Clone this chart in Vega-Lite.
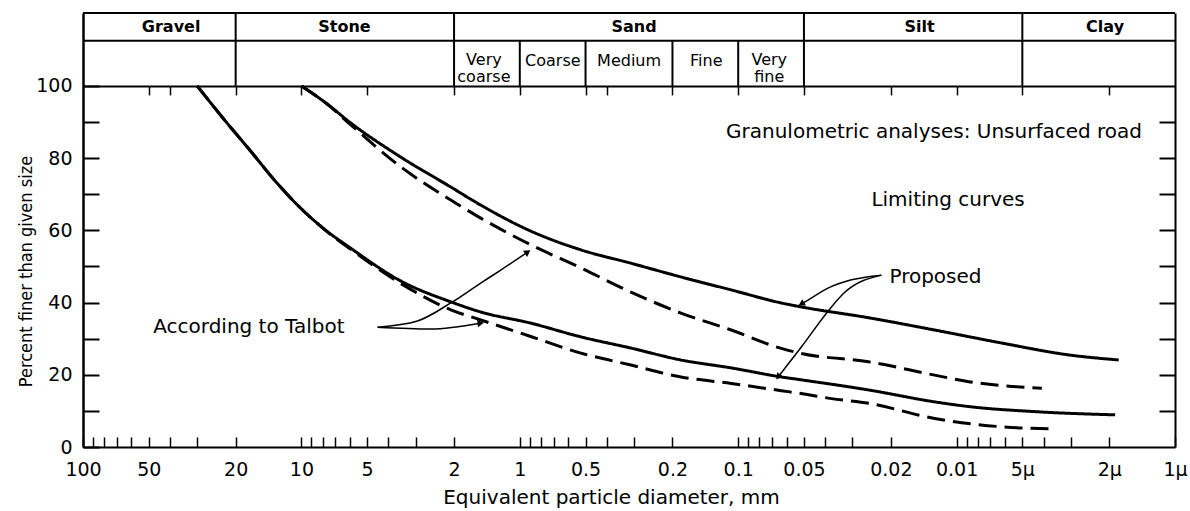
{
  "$schema": "https://vega.github.io/schema/vega-lite/v6.json",
  "width": 1092,
  "height": 434,
  "autosize": {"type": "none"},
  "padding": {"left": 83, "top": 13, "right": 15, "bottom": 64},
  "background": "white",
  "config": {
    "view": {"stroke": null},
    "font": "DejaVu Sans",
    "axis": {"labelFont": "DejaVu Sans", "titleFont": "DejaVu Sans", "labelColor": "black", "titleColor": "black", "domainColor": "black", "tickColor": "black", "grid": false}
  },
  "datasets": {
    "curves": [
      {"curve": "P_up", "kind": "Proposed", "i": 1, "d": 10, "p": 100},
      {"curve": "P_up", "kind": "Proposed", "i": 2, "d": 7.62, "p": 95},
      {"curve": "P_up", "kind": "Proposed", "i": 3, "d": 5.96, "p": 89.8},
      {"curve": "P_up", "kind": "Proposed", "i": 4, "d": 3.51, "p": 80.3},
      {"curve": "P_up", "kind": "Proposed", "i": 5, "d": 2.07, "p": 72.0},
      {"curve": "P_up", "kind": "Proposed", "i": 6, "d": 1.51, "p": 67.0},
      {"curve": "P_up", "kind": "Proposed", "i": 7, "d": 0.891, "p": 59.8},
      {"curve": "P_up", "kind": "Proposed", "i": 8, "d": 0.525, "p": 54.6},
      {"curve": "P_up", "kind": "Proposed", "i": 9, "d": 0.31, "p": 50.9},
      {"curve": "P_up", "kind": "Proposed", "i": 10, "d": 0.183, "p": 47.1},
      {"curve": "P_up", "kind": "Proposed", "i": 11, "d": 0.1076, "p": 43.5},
      {"curve": "P_up", "kind": "Proposed", "i": 12, "d": 0.0635, "p": 39.9},
      {"curve": "P_up", "kind": "Proposed", "i": 13, "d": 0.0514, "p": 38.8},
      {"curve": "P_up", "kind": "Proposed", "i": 14, "d": 0.0253, "p": 35.8},
      {"curve": "P_up", "kind": "Proposed", "i": 15, "d": 0.0126, "p": 32.4},
      {"curve": "P_up", "kind": "Proposed", "i": 16, "d": 0.00622, "p": 28.8},
      {"curve": "P_up", "kind": "Proposed", "i": 17, "d": 0.00306, "p": 25.5},
      {"curve": "P_up", "kind": "Proposed", "i": 18, "d": 0.00181, "p": 24.1},
      {"curve": "T_up", "kind": "Talbot", "i": 1, "d": 10, "p": 100},
      {"curve": "T_up", "kind": "Talbot", "i": 2, "d": 7.62, "p": 95},
      {"curve": "T_up", "kind": "Talbot", "i": 3, "d": 5.96, "p": 89.3},
      {"curve": "T_up", "kind": "Talbot", "i": 4, "d": 3.51, "p": 77.6},
      {"curve": "T_up", "kind": "Talbot", "i": 5, "d": 2.07, "p": 68.4},
      {"curve": "T_up", "kind": "Talbot", "i": 6, "d": 1.51, "p": 63.4},
      {"curve": "T_up", "kind": "Talbot", "i": 7, "d": 0.891, "p": 56.0},
      {"curve": "T_up", "kind": "Talbot", "i": 8, "d": 0.525, "p": 49.6},
      {"curve": "T_up", "kind": "Talbot", "i": 9, "d": 0.31, "p": 42.9},
      {"curve": "T_up", "kind": "Talbot", "i": 10, "d": 0.183, "p": 37.1},
      {"curve": "T_up", "kind": "Talbot", "i": 11, "d": 0.1076, "p": 32.4},
      {"curve": "T_up", "kind": "Talbot", "i": 12, "d": 0.0635, "p": 27.3},
      {"curve": "T_up", "kind": "Talbot", "i": 13, "d": 0.0514, "p": 25.9},
      {"curve": "T_up", "kind": "Talbot", "i": 14, "d": 0.0253, "p": 23.6},
      {"curve": "T_up", "kind": "Talbot", "i": 15, "d": 0.0126, "p": 19.9},
      {"curve": "T_up", "kind": "Talbot", "i": 16, "d": 0.0088, "p": 18.1},
      {"curve": "T_up", "kind": "Talbot", "i": 17, "d": 0.00407, "p": 16.3},
      {"curve": "P_low", "kind": "Proposed", "i": 1, "d": 30, "p": 100},
      {"curve": "P_low", "kind": "Proposed", "i": 2, "d": 22.3, "p": 90.3},
      {"curve": "P_low", "kind": "Proposed", "i": 3, "d": 17.1, "p": 82.0},
      {"curve": "P_low", "kind": "Proposed", "i": 4, "d": 13.2, "p": 73.7},
      {"curve": "P_low", "kind": "Proposed", "i": 5, "d": 10.1, "p": 66.2},
      {"curve": "P_low", "kind": "Proposed", "i": 6, "d": 7.76, "p": 60.1},
      {"curve": "P_low", "kind": "Proposed", "i": 7, "d": 5.96, "p": 55.1},
      {"curve": "P_low", "kind": "Proposed", "i": 8, "d": 3.51, "p": 46.0},
      {"curve": "P_low", "kind": "Proposed", "i": 9, "d": 2.07, "p": 40.2},
      {"curve": "P_low", "kind": "Proposed", "i": 10, "d": 1.51, "p": 37.4},
      {"curve": "P_low", "kind": "Proposed", "i": 11, "d": 0.891, "p": 34.3},
      {"curve": "P_low", "kind": "Proposed", "i": 12, "d": 0.525, "p": 30.5},
      {"curve": "P_low", "kind": "Proposed", "i": 13, "d": 0.31, "p": 27.4},
      {"curve": "P_low", "kind": "Proposed", "i": 14, "d": 0.183, "p": 24.1},
      {"curve": "P_low", "kind": "Proposed", "i": 15, "d": 0.1076, "p": 21.9},
      {"curve": "P_low", "kind": "Proposed", "i": 16, "d": 0.0635, "p": 19.4},
      {"curve": "P_low", "kind": "Proposed", "i": 17, "d": 0.0514, "p": 18.6},
      {"curve": "P_low", "kind": "Proposed", "i": 18, "d": 0.0253, "p": 15.8},
      {"curve": "P_low", "kind": "Proposed", "i": 19, "d": 0.0126, "p": 12.5},
      {"curve": "P_low", "kind": "Proposed", "i": 20, "d": 0.0088, "p": 11.2},
      {"curve": "P_low", "kind": "Proposed", "i": 21, "d": 0.00439, "p": 9.8},
      {"curve": "P_low", "kind": "Proposed", "i": 22, "d": 0.00188, "p": 8.9},
      {"curve": "T_low", "kind": "Talbot", "i": 1, "d": 30, "p": 100},
      {"curve": "T_low", "kind": "Talbot", "i": 2, "d": 22.3, "p": 90.3},
      {"curve": "T_low", "kind": "Talbot", "i": 3, "d": 17.1, "p": 82.0},
      {"curve": "T_low", "kind": "Talbot", "i": 4, "d": 13.2, "p": 73.7},
      {"curve": "T_low", "kind": "Talbot", "i": 5, "d": 10.1, "p": 66.2},
      {"curve": "T_low", "kind": "Talbot", "i": 6, "d": 7.76, "p": 60.0},
      {"curve": "T_low", "kind": "Talbot", "i": 7, "d": 5.96, "p": 54.8},
      {"curve": "T_low", "kind": "Talbot", "i": 8, "d": 3.51, "p": 45.3},
      {"curve": "T_low", "kind": "Talbot", "i": 9, "d": 2.07, "p": 38.0},
      {"curve": "T_low", "kind": "Talbot", "i": 10, "d": 1.51, "p": 35.2},
      {"curve": "T_low", "kind": "Talbot", "i": 11, "d": 0.891, "p": 30.6},
      {"curve": "T_low", "kind": "Talbot", "i": 12, "d": 0.525, "p": 26.0},
      {"curve": "T_low", "kind": "Talbot", "i": 13, "d": 0.31, "p": 22.7},
      {"curve": "T_low", "kind": "Talbot", "i": 14, "d": 0.183, "p": 19.4},
      {"curve": "T_low", "kind": "Talbot", "i": 15, "d": 0.1076, "p": 17.6},
      {"curve": "T_low", "kind": "Talbot", "i": 16, "d": 0.0635, "p": 15.6},
      {"curve": "T_low", "kind": "Talbot", "i": 17, "d": 0.0514, "p": 14.8},
      {"curve": "T_low", "kind": "Talbot", "i": 18, "d": 0.0374, "p": 13.4},
      {"curve": "T_low", "kind": "Talbot", "i": 19, "d": 0.0253, "p": 12.1},
      {"curve": "T_low", "kind": "Talbot", "i": 20, "d": 0.0126, "p": 7.9},
      {"curve": "T_low", "kind": "Talbot", "i": 21, "d": 0.00622, "p": 5.6},
      {"curve": "T_low", "kind": "Talbot", "i": 22, "d": 0.00367, "p": 5.0}
    ],
    "arrows": [
      {"arrow": "pu", "i": 1, "d": 0.0221, "p": 47.6},
      {"arrow": "pu", "i": 2, "d": 0.0303, "p": 46.3},
      {"arrow": "pu", "i": 3, "d": 0.0388, "p": 44.0},
      {"arrow": "pu", "i": 4, "d": 0.0479, "p": 40.7},
      {"arrow": "pu", "i": 5, "d": 0.0514, "p": 39.6},
      {"arrow": "pl", "i": 1, "d": 0.0221, "p": 47.6},
      {"arrow": "pl", "i": 2, "d": 0.0327, "p": 42.7},
      {"arrow": "pl", "i": 3, "d": 0.0374, "p": 38.8},
      {"arrow": "pl", "i": 4, "d": 0.0514, "p": 27.7},
      {"arrow": "pl", "i": 5, "d": 0.0656, "p": 19.4},
      {"arrow": "tu", "i": 1, "d": 4.48, "p": 33.2},
      {"arrow": "tu", "i": 2, "d": 2.94, "p": 34.9},
      {"arrow": "tu", "i": 3, "d": 2.07, "p": 39.9},
      {"arrow": "tu", "i": 4, "d": 1.51, "p": 45.4},
      {"arrow": "tu", "i": 5, "d": 1.222, "p": 49.0},
      {"arrow": "tu", "i": 6, "d": 0.92, "p": 54.0},
      {"arrow": "tl", "i": 1, "d": 4.48, "p": 33.2},
      {"arrow": "tl", "i": 2, "d": 2.56, "p": 32.7},
      {"arrow": "tl", "i": 3, "d": 1.51, "p": 34.3}
    ],
    "heads": [
      {"arrow": "pu", "d": 0.0514, "p": 39.6},
      {"arrow": "pl", "d": 0.0656, "p": 19.4},
      {"arrow": "tu", "d": 0.92, "p": 54.0},
      {"arrow": "tl", "d": 1.51, "p": 34.3}
    ],
    "dividers": [
      {"d": 20, "y1": 100, "y2": 120.2},
      {"d": 2, "y1": 100, "y2": 120.2},
      {"d": 0.05, "y1": 100, "y2": 120.2},
      {"d": 0.005, "y1": 100, "y2": 120.2},
      {"d": 1, "y1": 100, "y2": 112.5},
      {"d": 0.5, "y1": 100, "y2": 112.5},
      {"d": 0.2, "y1": 100, "y2": 112.5},
      {"d": 0.1, "y1": 100, "y2": 112.5}
    ],
    "hlines": [{"p": 120.2}, {"p": 112.5}],
    "headers": [
      {"d": 39.5, "p": 116.4, "t": "Gravel"},
      {"d": 6.35, "p": 116.4, "t": "Stone"},
      {"d": 0.30, "p": 116.4, "t": "Sand"},
      {"d": 0.01479, "p": 116.4, "t": "Silt"},
      {"d": 0.00209, "p": 116.4, "t": "Clay"}
    ],
    "subheaders": [
      {"d": 1.46, "p": 107.3, "t": "Very\ncoarse"},
      {"d": 0.706, "p": 106.8, "t": "Coarse"},
      {"d": 0.316, "p": 106.8, "t": "Medium"},
      {"d": 0.140, "p": 106.8, "t": "Fine"},
      {"d": 0.0721, "p": 107.3, "t": "Very\nfine"}
    ],
    "notesLeft": [
      {"d": 0.02455, "p": 68.4, "t": "Limiting curves"},
      {"d": 0.0203, "p": 47.1, "t": "Proposed"},
      {"d": 47.7, "p": 33.2, "t": "According to Talbot"}
    ],
    "notesRight": [
      {"d": 0.001416, "p": 87.3, "t": "Granulometric analyses: Unsurfaced road"}
    ]
  },
  "layer": [
    {
      "data": {"name": "curves"},
      "mark": {"type": "line", "strokeWidth": 3, "color": "black", "strokeCap": "butt", "interpolate": "monotone"},
      "encoding": {
        "x": {
          "field": "d", "type": "quantitative",
          "scale": {"type": "log", "domain": [0.001, 100], "reverse": true, "nice": false},
          "axis": {
            "orient": "bottom",
            "values": [100, 90, 80, 70, 60, 50, 40, 30, 20, 10, 9, 8, 7, 6, 5, 4, 3, 2, 1, 0.9, 0.8, 0.7, 0.6, 0.5, 0.4, 0.3, 0.2, 0.1, 0.09, 0.08, 0.07, 0.06, 0.05, 0.04, 0.03, 0.02, 0.01, 0.009, 0.008, 0.007, 0.006, 0.005, 0.004, 0.003, 0.002, 0.001],
            "labelExpr": "indexof([100, 50, 20, 10, 5, 2, 1, 0.5, 0.2, 0.1, 0.05, 0.02, 0.01], datum.value) >= 0 ? toString(datum.value) : datum.value == 0.005 ? '5μ' : datum.value == 0.002 ? '2μ' : datum.value == 0.001 ? '1μ' : ''",
            "tickSize": -10, "tickWidth": 1.5, "domainWidth": 2,
            "labelPadding": 23, "labelFontSize": 19, "labelOverlap": false, "labelFlush": false,
            "title": "Equivalent particle diameter, mm", "titleFontSize": 20, "titleFontWeight": "normal",
            "titleX": 528, "titleY": 56, "titleBaseline": "alphabetic"
          }
        },
        "y": {
          "field": "p", "type": "quantitative",
          "scale": {"domain": [0, 120.2], "nice": false, "zero": false},
          "axis": {
            "orient": "left",
            "values": [0, 10, 20, 30, 40, 50, 60, 70, 80, 90, 100],
            "labelExpr": "datum.value % 20 == 0 ? toString(datum.value) : ''",
            "tickSize": -16, "tickWidth": 2, "domainWidth": 2.5,
            "labelPadding": 27, "labelFontSize": 19,
            "title": "Percent finer than given size", "titleFontSize": 18, "titleFontWeight": "normal",
            "titleFont": "DejaVu Sans Condensed, Liberation Sans Narrow, DejaVu Sans",
            "titleX": -52, "titleY": 258, "titleBaseline": "alphabetic", "titleAngle": -90
          }
        },
        "detail": {"field": "curve"},
        "order": {"field": "i"},
        "strokeDash": {"field": "kind", "type": "nominal", "scale": {"domain": ["Proposed", "Talbot"], "range": [[1, 0], [18, 8]]}, "legend": null}
      }
    },
    {
      "data": {"name": "dividers"},
      "mark": {"type": "rule", "strokeWidth": 2, "color": "black"},
      "encoding": {
        "x": {
          "field": "d", "type": "quantitative",
          "scale": {"type": "log", "domain": [0.001, 100], "reverse": true, "nice": false},
          "axis": {
            "orient": "top", "offset": -72.9,
            "values": [50, 40, 20, 10, 5, 2, 1, 0.5, 0.4, 0.2, 0.1, 0.05, 0.02, 0.01, 0.005, 0.002],
            "labels": false, "tickSize": -9, "tickWidth": 1.5, "domainWidth": 2, "title": null
          }
        },
        "y": {
          "field": "y1", "type": "quantitative",
          "scale": {"domain": [0, 120.2], "nice": false, "zero": false},
          "axis": {
            "orient": "right",
            "values": [10, 20, 30, 40, 50, 60, 70, 80, 90],
            "labels": false, "tickSize": -16, "tickWidth": 2, "domainWidth": 2, "title": null
          }
        },
        "y2": {"field": "y2"}
      }
    },
    {
      "data": {"name": "hlines"},
      "mark": {"type": "rule", "strokeWidth": 2, "color": "black"},
      "encoding": {
        "y": {"field": "p", "type": "quantitative", "scale": {"domain": [0, 120.2], "nice": false, "zero": false}, "axis": null}
      }
    },
    {
      "data": {"name": "headers"},
      "mark": {"type": "text", "fontSize": 16, "fontWeight": "bold", "align": "center", "baseline": "middle", "color": "black"},
      "encoding": {
        "x": {"field": "d", "type": "quantitative", "scale": {"type": "log", "domain": [0.001, 100], "reverse": true, "nice": false}, "axis": null},
        "y": {"field": "p", "type": "quantitative", "scale": {"domain": [0, 120.2], "nice": false, "zero": false}, "axis": null},
        "text": {"field": "t"}
      }
    },
    {
      "data": {"name": "subheaders"},
      "mark": {"type": "text", "fontSize": 16, "align": "center", "baseline": "middle", "color": "black", "lineBreak": "\n", "lineHeight": 17},
      "encoding": {
        "x": {"field": "d", "type": "quantitative", "scale": {"type": "log", "domain": [0.001, 100], "reverse": true, "nice": false}, "axis": null},
        "y": {"field": "p", "type": "quantitative", "scale": {"domain": [0, 120.2], "nice": false, "zero": false}, "axis": null},
        "text": {"field": "t"}
      }
    },
    {
      "data": {"name": "notesLeft"},
      "mark": {"type": "text", "fontSize": 20, "align": "left", "baseline": "middle", "color": "black"},
      "encoding": {
        "x": {"field": "d", "type": "quantitative", "scale": {"type": "log", "domain": [0.001, 100], "reverse": true, "nice": false}, "axis": null},
        "y": {"field": "p", "type": "quantitative", "scale": {"domain": [0, 120.2], "nice": false, "zero": false}, "axis": null},
        "text": {"field": "t"}
      }
    },
    {
      "data": {"name": "notesRight"},
      "mark": {"type": "text", "fontSize": 20, "align": "right", "baseline": "middle", "color": "black"},
      "encoding": {
        "x": {"field": "d", "type": "quantitative", "scale": {"type": "log", "domain": [0.001, 100], "reverse": true, "nice": false}, "axis": null},
        "y": {"field": "p", "type": "quantitative", "scale": {"domain": [0, 120.2], "nice": false, "zero": false}, "axis": null},
        "text": {"field": "t"}
      }
    },
    {
      "data": {"name": "arrows"},
      "mark": {"type": "line", "strokeWidth": 1.5, "color": "black", "interpolate": "monotone"},
      "encoding": {
        "x": {"field": "d", "type": "quantitative", "scale": {"type": "log", "domain": [0.001, 100], "reverse": true, "nice": false}, "axis": null},
        "y": {"field": "p", "type": "quantitative", "scale": {"domain": [0, 120.2], "nice": false, "zero": false}, "axis": null},
        "detail": {"field": "arrow"},
        "order": {"field": "i"}
      }
    },
    {
      "data": {"name": "heads"},
      "transform": [{"filter": "datum.arrow == 'pu'"}],
      "mark": {"type": "point", "shape": "triangle-up", "filled": true, "size": 55, "color": "black", "opacity": 1, "angle": 240},
      "encoding": {
        "x": {"field": "d", "type": "quantitative", "scale": {"type": "log", "domain": [0.001, 100], "reverse": true, "nice": false}, "axis": null},
        "y": {"field": "p", "type": "quantitative", "scale": {"domain": [0, 120.2], "nice": false, "zero": false}, "axis": null}
      }
    },
    {
      "data": {"name": "heads"},
      "transform": [{"filter": "datum.arrow == 'pl'"}],
      "mark": {"type": "point", "shape": "triangle-up", "filled": true, "size": 55, "color": "black", "opacity": 1, "angle": 217},
      "encoding": {
        "x": {"field": "d", "type": "quantitative", "scale": {"type": "log", "domain": [0.001, 100], "reverse": true, "nice": false}, "axis": null},
        "y": {"field": "p", "type": "quantitative", "scale": {"domain": [0, 120.2], "nice": false, "zero": false}, "axis": null}
      }
    },
    {
      "data": {"name": "heads"},
      "transform": [{"filter": "datum.arrow == 'tu'"}],
      "mark": {"type": "point", "shape": "triangle-up", "filled": true, "size": 55, "color": "black", "opacity": 1, "angle": 56},
      "encoding": {
        "x": {"field": "d", "type": "quantitative", "scale": {"type": "log", "domain": [0.001, 100], "reverse": true, "nice": false}, "axis": null},
        "y": {"field": "p", "type": "quantitative", "scale": {"domain": [0, 120.2], "nice": false, "zero": false}, "axis": null}
      }
    },
    {
      "data": {"name": "heads"},
      "transform": [{"filter": "datum.arrow == 'tl'"}],
      "mark": {"type": "point", "shape": "triangle-up", "filled": true, "size": 55, "color": "black", "opacity": 1, "angle": 83},
      "encoding": {
        "x": {"field": "d", "type": "quantitative", "scale": {"type": "log", "domain": [0.001, 100], "reverse": true, "nice": false}, "axis": null},
        "y": {"field": "p", "type": "quantitative", "scale": {"domain": [0, 120.2], "nice": false, "zero": false}, "axis": null}
      }
    }
  ],
  "resolve": {"axis": {"x": "independent", "y": "independent"}}
}
